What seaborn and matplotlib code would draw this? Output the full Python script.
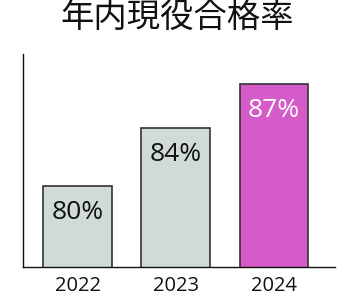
import matplotlib
matplotlib.use("Agg")
import matplotlib.pyplot as plt
import seaborn as sns
import pandas as pd

years = ["2022", "2023", "2024"]
rates = [80, 84, 87]
labels = ["80%", "84%", "87%"]
bar_colors = ["#cfdad9", "#cfdad9", "#d55bc9"]
text_colors = ["#111111", "#111111", "#ffffff"]
title = "年内現役合格率"

sns.set_theme(style="white")
plt.rcParams['font.family'] = ['Noto Sans CJK JP', 'DejaVu Sans']

df = pd.DataFrame({"year": years, "rate": rates})

fig = plt.figure(figsize=(3.55, 3.01), dpi=100)
ax = fig.add_axes([23/355, 1-266.7/301, (335-23)/355, (266.7-54)/301])
sns.barplot(data=df, x="year", y="rate", hue="year", palette=bar_colors,
            legend=False, width=0.70, edgecolor="#333333", linewidth=1.2,
            saturation=1, ax=ax)
ax.set_ylim(74.45, 89.1)
ax.set_xlim(-0.556, 2.62)
for i, (v, lab, tc) in enumerate(zip(rates, labels, text_colors)):
    ax.annotate(lab, (i, v), xytext=(0, -19), textcoords="offset points",
                ha="center", va="center", fontsize=19, color=tc,
                family=["Open Sans", "DejaVu Sans"])
ax.set_xlabel("")
ax.set_ylabel("")
ax.set_yticks([])
ax.tick_params(axis="x", length=0, pad=7, labelsize=14.5, colors="#111111")
for t in ax.get_xticklabels():
    t.set_family(["Open Sans", "DejaVu Sans"])
for s in ["top", "right"]:
    ax.spines[s].set_visible(False)
for s in ["left", "bottom"]:
    ax.spines[s].set_color("#111111")
    ax.spines[s].set_linewidth(1.0)
fig.text(177.5/355, 1-17.5/301, title, ha="center", va="center",
         fontsize=24, color="#111111")
fig.savefig("out.png", dpi=100)
